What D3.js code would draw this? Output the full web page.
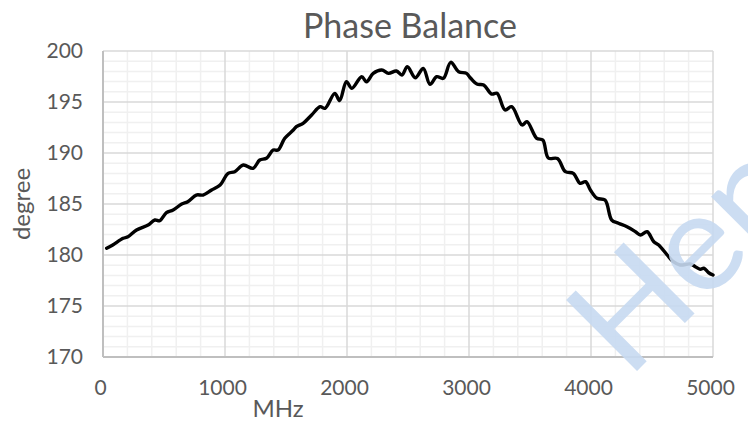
<!DOCTYPE html>
<html>
<head>
<meta charset="utf-8">
<script src="https://cdn.jsdelivr.net/npm/d3@7"></script>
<style>
  body { margin: 0; background: #fff; }
  text { font-family: Lato, "Open Sans", sans-serif; }
</style>
</head>
<body>
<div class="chart"></div>
<script>

// frequency (MHz) and phase balance (degree)
var freq = [30, 80, 165, 205, 275, 370, 425, 465, 520, 575, 645, 695, 765, 820, 890, 960,
    1025, 1080, 1150, 1230, 1285, 1340, 1395, 1435, 1490, 1560, 1585, 1640, 1710, 1780, 1820,
    1900, 1940, 1995, 2040, 2120, 2160, 2215, 2285, 2340, 2405, 2450, 2495, 2560, 2625, 2680,
    2735, 2790, 2850, 2915, 2980, 3010, 3065, 3120, 3185, 3230, 3295, 3350, 3435, 3475, 3555,
    3605, 3650, 3725, 3790, 3855, 3910, 3955, 3995, 4050, 4115, 4170, 4225, 4295, 4365, 4405,
    4460, 4515, 4555, 4625, 4675, 4730, 4815, 4855, 4895, 4925, 4965, 5000];
var phase = [180.66, 180.98, 181.64, 181.79, 182.45, 182.94, 183.43, 183.36, 184.15, 184.41,
    185.0, 185.23, 185.88, 185.88, 186.37, 186.86, 188.01, 188.17, 188.82, 188.5, 189.31,
    189.48, 190.29, 190.29, 191.44, 192.25, 192.58, 192.91, 193.73, 194.54, 194.38, 195.85,
    195.13, 196.99, 196.34, 197.48, 196.99, 197.81, 198.14, 197.81, 198.04, 197.65, 198.46,
    197.38, 198.3, 196.74, 197.48, 197.32, 198.89, 197.97, 197.81, 197.38, 196.76, 196.67,
    195.78, 195.85, 194.22, 194.54, 192.75, 193.07, 191.44, 191.27, 189.51, 189.46, 188.17,
    188.01, 187.03, 187.19, 186.37, 185.56, 185.39, 183.43, 183.11, 182.77, 182.28, 181.96,
    182.28, 181.3, 180.98, 180.0, 179.34, 179.02, 179.12, 178.85, 178.6, 178.7, 178.26, 178.04];

var xTicks = [0, 1000, 2000, 3000, 4000, 5000];
var yTicks = [170, 175, 180, 185, 190, 195, 200];

var title = "Phase Balance";
var xTitle = "MHz";
var yTitle = "degree";

const W = 748, H = 422;
const margin = { top: 51, right: 35, bottom: 65, left: 103 },
    width = W - margin.left - margin.right,
    height = H - margin.top - margin.bottom;

var data = freq.map((f, i) => ({ f: f, v: phase[i] }));

var svg = d3.select(".chart").append("svg")
    .attr("width", W)
    .attr("height", H);

var x = d3.scaleLinear().domain([0, 5000]).range([0, width]);
var y = d3.scaleLinear().domain([170, 200]).range([height, 0]);

var g = svg.append("g")
    .attr("transform", "translate(" + margin.left + "," + margin.top + ")");

// minor grid
g.append("g").selectAll("line")
    .data(d3.range(0, 5001, 200).filter(d => d % 1000 != 0))
    .enter().append("line")
    .attr("x1", d => x(d)).attr("x2", d => x(d))
    .attr("y1", 0).attr("y2", height)
    .style("stroke", "#f0f0f0").style("stroke-width", 1.5);
g.append("g").selectAll("line")
    .data(d3.range(170, 201, 1).filter(d => d % 5 != 0))
    .enter().append("line")
    .attr("y1", d => y(d)).attr("y2", d => y(d))
    .attr("x1", 0).attr("x2", width)
    .style("stroke", "#f0f0f0").style("stroke-width", 1.5);

// major grid
g.append("g").selectAll("line")
    .data(xTicks)
    .enter().append("line")
    .attr("x1", d => x(d)).attr("x2", d => x(d))
    .attr("y1", 0).attr("y2", height)
    .style("stroke", "#d9d9d9").style("stroke-width", 1.5);
g.append("g").selectAll("line")
    .data(yTicks)
    .enter().append("line")
    .attr("y1", d => y(d)).attr("y2", d => y(d))
    .attr("x1", 0).attr("x2", width)
    .style("stroke", "#d9d9d9").style("stroke-width", 1.5);

// axis lines
g.append("line").attr("x1", 0).attr("x2", 0).attr("y1", 0).attr("y2", height)
    .style("stroke", "#bfbfbf").style("stroke-width", 2);
g.append("line").attr("x1", 0).attr("x2", width).attr("y1", height).attr("y2", height)
    .style("stroke", "#bfbfbf").style("stroke-width", 2);

// tick labels
var xAxis = g.append("g")
    .attr("transform", "translate(0," + height + ")")
    .call(d3.axisBottom(x).tickValues(xTicks).tickSize(0).tickPadding(23).tickFormat(d3.format("d")));
var yAxis = g.append("g")
    .call(d3.axisLeft(y).tickValues(yTicks).tickSize(0).tickPadding(20).tickFormat(d3.format("d")));
[xAxis, yAxis].forEach(a => {
    a.select(".domain").remove();
    a.selectAll("text")
        .style("font-family", "Lato, 'Open Sans', sans-serif")
        .style("font-size", "21px")
        .style("fill", "#595959");
});
xAxis.selectAll("text").attr("dx", -3);

// watermark, under the line
svg.append("text")
    .attr("transform", "translate(628,380) rotate(-45)")
    .style("font-size", "140px")
    .style("fill", "#c6d9f1")
    .style("fill-opacity", 0.9)
    .text("Hen");

// the line
var line = d3.line()
    .x(d => x(d.f))
    .y(d => y(d.v))
    .curve(d3.curveCatmullRom.alpha(0.5));

g.append("path")
    .datum(data)
    .attr("d", line)
    .style("fill", "none")
    .style("stroke", "#000")
    .style("stroke-width", 3.4)
    .style("stroke-linejoin", "round")
    .style("stroke-linecap", "round");

// titles
svg.append("text")
    .attr("x", 410).attr("y", 38)
    .style("text-anchor", "middle")
    .style("font-size", "34px")
    .style("fill", "#595959")
    .text(title);

svg.append("text")
    .attr("x", 278).attr("y", 417)
    .style("text-anchor", "middle")
    .style("font-size", "24px")
    .style("fill", "#595959")
    .text(xTitle);

svg.append("text")
    .attr("transform", "translate(30,204) rotate(-90)")
    .style("text-anchor", "middle")
    .style("font-size", "24px")
    .style("fill", "#595959")
    .text(yTitle);

</script>
</body>
</html>
